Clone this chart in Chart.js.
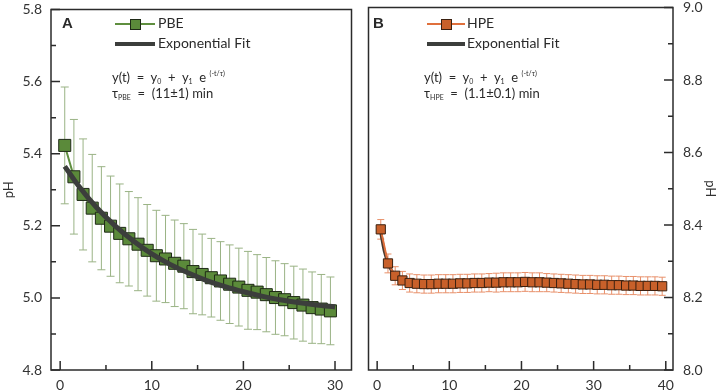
<!DOCTYPE html>
<html><head><meta charset="utf-8">
<script src="https://cdn.jsdelivr.net/npm/chart.js@4.4.1/dist/chart.umd.min.js"></script>
<style>
html,body{margin:0;padding:0;background:#fff;}
#wrap{position:relative;width:723px;height:390px;overflow:hidden;font-family:Lato,'Open Sans',sans-serif;color:#2a2a2a;}
canvas{position:absolute;top:0;}
#cA{left:0;} #cB{left:361px;}
.t{position:absolute;white-space:nowrap;line-height:1;font-size:14px;}
.eq{position:absolute;white-space:nowrap;line-height:1;font-size:13px;}
.eq sub{font-size:7px;vertical-align:-2px;}
.eq sup{font-size:7px;vertical-align:6px;}
.lbl{position:absolute;font-family:'Liberation Sans',Arial,sans-serif;font-weight:bold;font-size:15px;line-height:1;}
.ln{position:absolute;}
.sq{position:absolute;box-sizing:border-box;}
</style></head>
<body><div id="wrap">
<canvas id="cA" width="361" height="390"></canvas>
<canvas id="cB" width="362" height="390"></canvas>

<div class="lbl" style="left:62px;top:15px;">A</div>
<div class="ln" style="left:115px;top:23px;width:40px;height:2px;background:#5f8f3f"></div>
<div class="sq" style="left:130px;top:19px;width:11px;height:11px;background:#5b8a3a;border:1px solid #1f2a17"></div>
<div class="t" style="left:158px;top:16px;">PBE</div>
<div class="ln" style="left:115px;top:42px;width:40px;height:4px;background:#3c3e3c"></div>
<div class="t" style="left:158px;top:36px;">Exponential Fit</div>
<div class="eq" style="left:112px;top:70px;">y(t) &nbsp;=&nbsp; y<sub>0</sub> &nbsp;+&nbsp; y<sub>1</sub> &nbsp;e <sup>(-t/τ)</sup></div>
<div class="eq" style="left:112px;top:87px;">τ<sub>PBE</sub> &nbsp;=&nbsp; (11±1) min</div>

<div class="lbl" style="left:373px;top:15px;">B</div>
<div class="ln" style="left:427px;top:23px;width:38px;height:2px;background:#e0703c"></div>
<div class="sq" style="left:441px;top:19px;width:11px;height:11px;background:#c8602a;border:1px solid #3a2010"></div>
<div class="t" style="left:467px;top:16px;">HPE</div>
<div class="ln" style="left:427px;top:42px;width:38px;height:4px;background:#3c3e3c"></div>
<div class="t" style="left:467px;top:36px;">Exponential Fit</div>
<div class="eq" style="left:424px;top:70px;">y(t) &nbsp;=&nbsp; y<sub>0</sub> &nbsp;+&nbsp; y<sub>1</sub> &nbsp;e <sup>(-t/τ)</sup></div>
<div class="eq" style="left:424px;top:87px;">τ<sub>HPE</sub> &nbsp;=&nbsp; (1.1±0.1) min</div>
</div>
<script>
// ---------- data ----------
const pbeTime = [0.5,1.5,2.5,3.5,4.5,5.5,6.5,7.5,8.5,9.5,10.5,11.5,12.5,13.5,14.5,15.5,16.5,17.5,18.5,19.5,20.5,21.5,22.5,23.5,24.5,25.5,26.5,27.5,28.5,29.5];
const pbePH = [5.423,5.336,5.287,5.249,5.221,5.199,5.179,5.164,5.149,5.132,5.117,5.108,5.096,5.088,5.073,5.065,5.056,5.047,5.038,5.030,5.021,5.016,5.009,5.001,4.995,4.987,4.980,4.973,4.969,4.964];
const pbeErr = [0.162,0.159,0.154,0.149,0.143,0.139,0.137,0.131,0.129,0.127,0.126,0.121,0.120,0.118,0.117,0.112,0.109,0.109,0.109,0.108,0.108,0.104,0.103,0.102,0.100,0.101,0.100,0.099,0.096,0.094];
const pbeFitTime = [0.5,2,4,6,8,10,12,14,16,18,20,22,24,26,28,30];
const pbeFitPH = [5.365,5.311,5.250,5.200,5.158,5.122,5.093,5.069,5.048,5.031,5.017,5.005,4.995,4.987,4.980,4.975];

const hpeTime = [0.5,1.5,2.5,3.5,4.5,5.5,6.5,7.5,8.5,9.5,10.5,11.5,12.5,13.5,14.5,15.5,16.5,17.5,18.5,19.5,20.5,21.5,22.5,23.5,24.5,25.5,26.5,27.5,28.5,29.5,30.5,31.5,32.5,33.5,34.5,35.5,36.5,37.5,38.5,39.5];
const hpePH = [8.388,8.294,8.260,8.247,8.240,8.238,8.237,8.237,8.238,8.238,8.238,8.239,8.239,8.240,8.240,8.241,8.241,8.242,8.242,8.242,8.243,8.242,8.242,8.241,8.240,8.239,8.238,8.237,8.236,8.236,8.235,8.235,8.234,8.234,8.233,8.233,8.232,8.232,8.232,8.231];
const hpeErr = [0.027,0.026,0.025,0.025,0.025,0.025,0.025,0.025,0.025,0.025,0.025,0.025,0.025,0.025,0.025,0.025,0.026,0.026,0.026,0.026,0.026,0.026,0.026,0.025,0.025,0.025,0.025,0.025,0.025,0.025,0.025,0.025,0.025,0.025,0.025,0.025,0.025,0.025,0.025,0.025];
const hpeFitTime = [0.5,1,1.5,2,2.5,3,3.5,4,5,6,8,10,20,30,39.5];
const hpeFitPH = [8.379,8.327,8.295,8.274,8.261,8.252,8.247,8.244,8.240,8.239,8.238,8.238,8.238,8.238,8.238];

const xMajorA = [0,10,20,30], xMinorA = [5,15,25];
const yMajorA = [4.8,5.0,5.2,5.4,5.6,5.8], yMinorA = [4.9,5.1,5.3,5.5,5.7];
const xMajorB = [0,10,20,30,40], xMinorB = [5,15,25,35];
const yMajorB = [8.0,8.2,8.4,8.6,8.8,9.0], yMinorB = [8.1,8.3,8.5,8.7,8.9];

Chart.defaults.font.family = 'Lato, "Open Sans", sans-serif';
Chart.defaults.color = '#333';

function pts(xs, ys){ return xs.map((x,i)=>({x:x, y:ys[i]})); }

function makePlugins(xs, ys, es, errColor, cap, xMaj, xMin, yMaj, yMin, ySide){
  return [{
    id:'errbars',
    beforeDatasetsDraw(chart){
      const {ctx, scales:{x,y}} = chart;
      ctx.save(); ctx.strokeStyle = errColor; ctx.lineWidth = 1;
      xs.forEach((xv,i)=>{
        const px = x.getPixelForValue(xv);
        const t = y.getPixelForValue(ys[i]+es[i]);
        const b = y.getPixelForValue(ys[i]-es[i]);
        ctx.beginPath();
        ctx.moveTo(px,t); ctx.lineTo(px,b);
        ctx.moveTo(px-cap,t); ctx.lineTo(px+cap,t);
        ctx.moveTo(px-cap,b); ctx.lineTo(px+cap,b);
        ctx.stroke();
      });
      ctx.restore();
    }
  },{
    id:'frame',
    afterDraw(chart){
      const {ctx, chartArea:a, scales:{x,y}} = chart;
      ctx.save(); ctx.strokeStyle = '#2b2b2b'; ctx.lineWidth = 1.5;
      ctx.strokeRect(a.left, a.top, a.right-a.left, a.bottom-a.top);
      ctx.beginPath();
      xMaj.forEach(v=>{const p=x.getPixelForValue(v); ctx.moveTo(p,a.bottom); ctx.lineTo(p,a.bottom-9);});
      xMin.forEach(v=>{const p=x.getPixelForValue(v); ctx.moveTo(p,a.bottom); ctx.lineTo(p,a.bottom-5);});
      const ex = ySide==='left' ? a.left : a.right, dir = ySide==='left' ? 1 : -1;
      yMaj.forEach(v=>{const p=y.getPixelForValue(v); ctx.moveTo(ex,p); ctx.lineTo(ex+dir*9,p);});
      yMin.forEach(v=>{const p=y.getPixelForValue(v); ctx.moveTo(ex,p); ctx.lineTo(ex+dir*5,p);});
      ctx.stroke();
      ctx.restore();
    }
  }];
}

function fitBox(w, h){
  return function(s){
    if (w!==null) s.width = w;
    if (h!==null) s.height = h;
    s.paddingTop = 0; s.paddingBottom = 0; s.paddingLeft = 0; s.paddingRight = 0;
  };
}

new Chart(document.getElementById('cA'), {
  type:'line',
  data:{datasets:[
    {label:'PBE', data:pts(pbeTime,pbePH), borderColor:'#5f8f3f', borderWidth:2,
     pointStyle:'rect', pointRadius:8.5, pointBackgroundColor:'#5b8a3a', pointBorderColor:'#1f2a17', pointBorderWidth:1, order:1},
    {label:'Exponential Fit', data:pts(pbeFitTime,pbeFitPH), borderColor:'#3c3e3c', borderWidth:5,
     pointRadius:0, cubicInterpolationMode:'monotone', order:0}
  ]},
  options:{
    responsive:false, animation:false, events:[],
    layout:{padding:{top:5,right:1,left:0,bottom:0}},
    plugins:{legend:{display:false}, tooltip:{enabled:false}},
    scales:{
      x:{type:'linear', min:-1, max:31.8, grid:{display:false, drawTicks:false}, border:{display:false},
         afterBuildTicks:s=>{s.ticks = xMajorA.map(v=>({value:v}));},
         ticks:{padding:7, font:{size:14}, color:'#333', callback:v=>String(v)},
         afterFit:fitBox(null,20)},
      y:{type:'linear', min:4.8, max:5.8, grid:{display:false, drawTicks:false}, border:{display:false},
         afterBuildTicks:s=>{s.ticks = yMajorA.map(v=>({value:v}));},
         ticks:{padding:9, font:{size:14}, color:'#333', callback:v=>v.toFixed(1)},
         title:{display:true, text:'pH', font:{size:13}, color:'#333', padding:{top:1,bottom:0}},
         afterFit:fitBox(51,null)}
    }
  },
  plugins:makePlugins(pbeTime,pbePH,pbeErr,'#9ab385',4,xMajorA,xMinorA,yMajorA,yMinorA,'left')
});

new Chart(document.getElementById('cB'), {
  type:'line',
  data:{datasets:[
    {label:'HPE', data:pts(hpeTime,hpePH), borderColor:'#e0703c', borderWidth:2,
     pointStyle:'rect', pointRadius:6.5, pointBackgroundColor:'#c8602a', pointBorderColor:'#3a2010', pointBorderWidth:1, order:0},
    {label:'Exponential Fit', data:pts(hpeFitTime,hpeFitPH), borderColor:'#4a3a30', borderWidth:3,
     pointRadius:0, cubicInterpolationMode:'monotone', order:1}
  ]},
  options:{
    responsive:false, animation:false, events:[],
    layout:{padding:{top:5,right:0,left:0,bottom:0}},
    plugins:{legend:{display:false}, tooltip:{enabled:false}},
    scales:{
      x:{type:'linear', min:-1.2, max:41, grid:{display:false, drawTicks:false}, border:{display:false},
         afterBuildTicks:s=>{s.ticks = xMajorB.map(v=>({value:v}));},
         ticks:{padding:7, font:{size:14}, color:'#333', callback:v=>String(v)},
         afterFit:fitBox(null,20)},
      y:{type:'linear', position:'right', min:8.0, max:9.0, grid:{display:false, drawTicks:false}, border:{display:false},
         afterBuildTicks:s=>{s.ticks = yMajorB.map(v=>({value:v}));},
         ticks:{padding:10, font:{size:14}, color:'#333', callback:v=>v.toFixed(1)},
         title:{display:true, text:'pH', font:{size:13}, color:'#333', padding:{top:5,bottom:0}},
         afterFit:fitBox(50,null)}
    }
  },
  plugins:makePlugins(hpeTime,hpePH,hpeErr,'#e8906a',3.5,xMajorB,xMinorB,yMajorB,yMinorB,'right')
});
</script>
</body></html>
